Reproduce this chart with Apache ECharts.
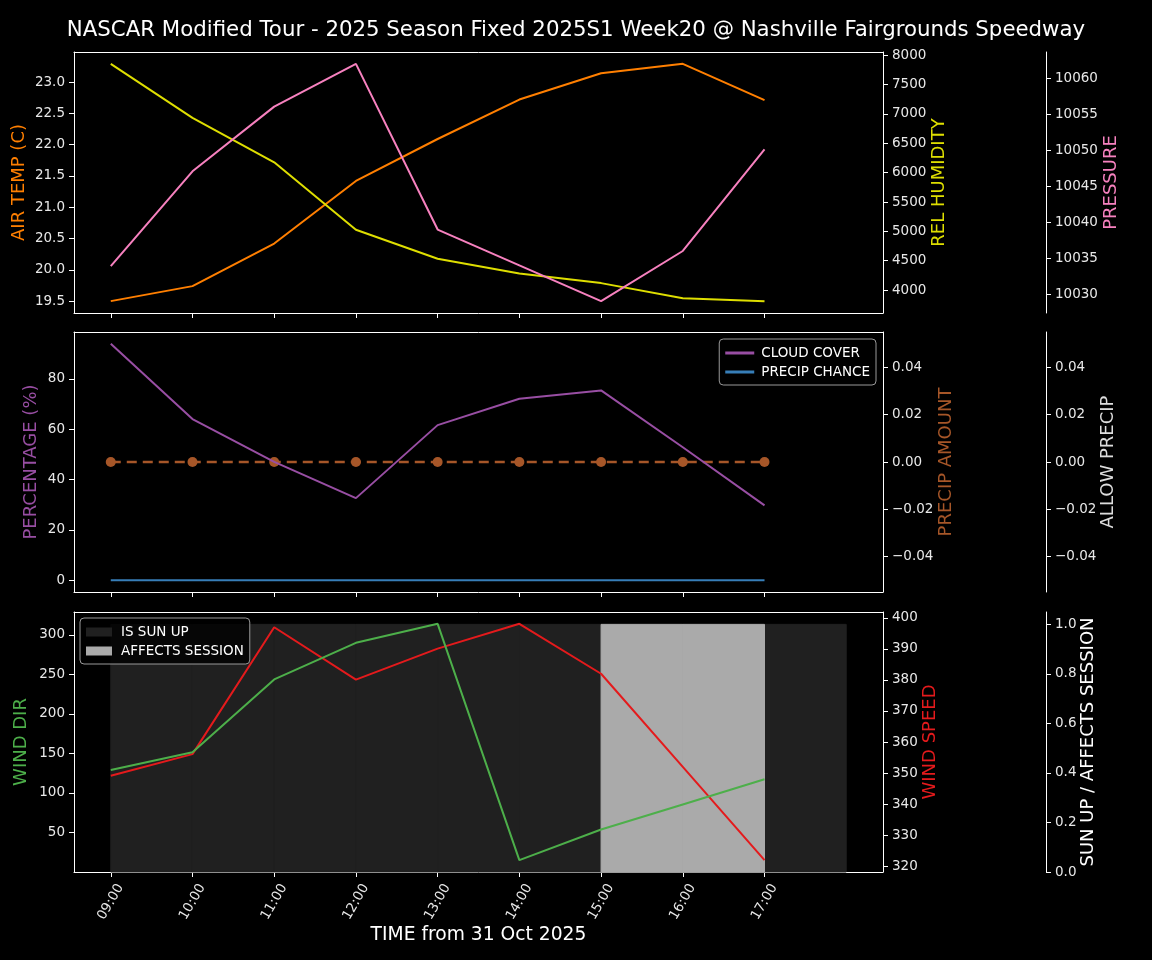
<!DOCTYPE html>
<html>
<head>
<meta charset="utf-8">
<title>NASCAR weather</title>
<script src="https://cdn.jsdelivr.net/npm/echarts@6/dist/echarts.min.js"></script>
<style>
    html, body { margin: 0; padding: 0; background: #000; }
    #mainChart { width: 1152px; height: 960px; }
</style>
</head>
<body>
<div id="mainChart"></div>
<script>
/** ----------------data-------------------------* */
var hours = [9, 10, 11, 12, 13, 14, 15, 16, 17];
var airTemp = [19.50, 19.74, 20.42, 21.42, 22.09, 22.72, 23.14, 23.29, 22.71];
var relHumidity = [7853, 6933, 6176, 5028, 4534, 4283, 4119, 3863, 3812];
var pressure = [10033.97, 10047.1, 10056.06, 10061.99, 10039.03, 10034.07, 10029.11, 10036.06, 10050.14];
var cloudCover = [93.9, 64.0, 47.0, 32.6, 61.6, 72.1, 75.4, 52.8, 29.7];
var precipChance = [0, 0, 0, 0, 0, 0, 0, 0, 0];
var precipAmount = [0, 0, 0, 0, 0, 0, 0, 0, 0];
var windDir = [129, 151.4, 243.6, 289.9, 313.9, 15.0, 53.8, 85.5, 117.3];
var windSpeed = [349.1, 356.1, 397.0, 380.1, 390.1, 398.1, 382.0, 352.0, 321.9];
var isSunUp = [1, 1, 1, 1, 1, 1, 1, 1, 1];
var affectsSession = [0, 0, 0, 0, 0, 0, 1, 1, 0];

// tick labels
var hourTicks = [9, 10, 11, 12, 13, 14, 15, 16, 17];
var tempTicks = [19.5, 20.0, 20.5, 21.0, 21.5, 22.0, 22.5, 23.0];
var humidityTicks = [4000, 4500, 5000, 5500, 6000, 6500, 7000, 7500, 8000];
var pressureTicks = [10030, 10035, 10040, 10045, 10050, 10055, 10060];
var pctTicks = [0, 20, 40, 60, 80];
var precipTicks = [-0.04, -0.02, 0, 0.02, 0.04];
var windDirTicks = [50, 100, 150, 200, 250, 300];
var windSpeedTicks = [320, 330, 340, 350, 360, 370, 380, 390, 400];
var sunTicks = [0, 0.2, 0.4, 0.6, 0.8, 1.0];

var TXT = '#e8e8e8';
var FONT = 'DejaVu Sans';
var RIGHT_X = 883;
var OFFSET = 163;
var TICK_FONT = 13.5;

/** --------helpers ------ */
function pairs(ys) {
    var arr = [];
    for (var i = 0; i < hours.length; i++) {
        arr.push([hours[i], ys[i]]);
    }
    return arr;
}

function bars(ys) {
    var arr = [];
    for (var i = 0; i < hours.length; i++) {
        arr.push([hours[i], hours[i] + 1, ys[i]]);
    }
    return arr;
}

// matplotlib style 5% margins
function pad(list) {
    var mn = Infinity, mx = -Infinity;
    for (var k = 0; k < list.length; k++) {
        for (var i = 0; i < list[k].length; i++) {
            mn = Math.min(mn, list[k][i]);
            mx = Math.max(mx, list[k][i]);
        }
    }
    if (mx === mn) {
        return [mn - 0.055, mx + 0.055];
    }
    var r = mx - mn;
    return [mn - r * 0.05, mx + r * 0.05];
}

function minus(s) {
    return String(s).replace('-', '\u2212');
}

/** --------axes ------ */
function xAxisFor(idx, showLabel) {
    var ax = {
        type: 'value',
        gridIndex: idx,
        min: 8.55,
        max: 18.45,
        axisLine: { show: true, onZero: false, lineStyle: { color: '#fff', width: 1 } },
        axisTick: { show: true, customValues: hourTicks, length: 5, lineStyle: { color: '#fff' } },
        axisLabel: {
            show: showLabel,
            customValues: hourTicks,
            rotate: 60,
            align: 'center',
            verticalAlign: 'middle',
            color: TXT,
            fontFamily: FONT,
            fontSize: TICK_FONT,
            margin: 30,
            formatter: function (v) {
                return (v < 10 ? '0' : '') + v + ':00';
            }
        },
        splitLine: { show: false }
    };
    if (showLabel) {
        ax.name = 'TIME from 31 Oct 2025';
        ax.nameLocation = 'middle';
        ax.nameGap = 54;
        ax.nameMoveOverlap = false;
        ax.nameTextStyle = { color: '#fff', fontSize: 18.7, fontFamily: FONT };
    }
    return ax;
}

// top frame line of each panel
function topAxisFor(idx) {
    return {
        type: 'value',
        gridIndex: idx,
        position: 'top',
        min: 8.55,
        max: 18.45,
        axisLine: { show: true, onZero: false, lineStyle: { color: '#fff', width: 1 } },
        axisTick: { show: false },
        axisLabel: { show: false },
        splitLine: { show: false }
    };
}

function yAxisFor(idx, pos, offset, name, color, range, ticks, fmt, gap) {
    return {
        type: 'value',
        gridIndex: idx,
        position: pos,
        offset: offset,
        min: range[0],
        max: range[1],
        name: name,
        nameLocation: 'middle',
        nameRotate: 90,
        nameGap: gap,
        nameMoveOverlap: false,
        nameTextStyle: { color: color, fontSize: 18, fontFamily: FONT },
        axisLine: { show: true, onZero: false, lineStyle: { color: '#fff', width: 1 } },
        axisTick: { show: true, customValues: ticks, length: 5, lineStyle: { color: '#fff' } },
        axisLabel: {
            customValues: ticks,
            color: TXT,
            fontFamily: FONT,
            fontSize: TICK_FONT,
            margin: 9,
            formatter: fmt
        },
        splitLine: { show: false }
    };
}

function lineSeries(name, xi, yi, ys, color) {
    return {
        name: name,
        type: 'line',
        xAxisIndex: xi,
        yAxisIndex: yi,
        data: pairs(ys),
        showSymbol: false,
        symbol: 'none',
        silent: true,
        z: 5,
        lineStyle: { color: color, width: 2 },
        itemStyle: { color: color }
    };
}

function barSeries(name, ys, color) {
    return {
        name: name,
        type: 'custom',
        xAxisIndex: 2,
        yAxisIndex: 8,
        data: bars(ys),
        z: 1,
        silent: true,
        itemStyle: { color: color },
        encode: { x: [0, 1], y: 2 },
        renderItem: function (params, api) {
            var v = api.value(2);
            if (!v) {
                return null;
            }
            var p0 = api.coord([api.value(0), 0]);
            var p1 = api.coord([api.value(1), v]);
            return {
                type: 'rect',
                shape: { x: p0[0], y: p1[1], width: p1[0] - p0[0], height: p0[1] - p1[1] },
                style: { fill: color, stroke: color, lineWidth: 1 }
            };
        }
    };
}

function legendFor(names, pos, iw, ih, tp) {
    var lg = {
        data: names,
        orient: 'vertical',
        top: pos.top,
        padding: [7, 6, 6, 6],
        itemGap: 5,
        icon: 'rect',
        itemWidth: iw,
        itemHeight: ih,
        backgroundColor: 'rgba(0,0,0,0.8)',
        borderColor: '#999',
        borderWidth: 1,
        borderRadius: 4,
        selectedMode: false,
        textStyle: { color: '#fff', fontSize: 13.5, fontFamily: FONT, padding: [0, 0, 0, tp] }
    };
    if (pos.left !== undefined) {
        lg.left = pos.left;
    } else {
        lg.right = pos.right;
    }
    return lg;
}

/** --------chart ------ */
function initChart() {
    var chart = echarts.init(document.getElementById('mainChart'), null, { renderer: 'canvas' });

    var f1 = function (v) { return v.toFixed(1); };
    var f0 = function (v) { return String(v); };
    var f2 = function (v) { return Math.abs(v) < 1e-9 ? '0.00' : minus(v.toFixed(2)); };

    var gridBase = { left: 74, right: 1152 - RIGHT_X, show: false };

    var option = {
        backgroundColor: '#000',
        animation: false,
        textStyle: { fontFamily: FONT },
        title: {
            text: 'NASCAR Modified Tour - 2025 Season Fixed 2025S1 Week20 @ Nashville Fairgrounds Speedway',
            left: 'center',
            top: 15,
            textStyle: { color: '#fff', fontSize: 21.3, fontWeight: 'normal', fontFamily: FONT }
        },
        legend: [
            legendFor(['CLOUD COVER', 'PRECIP CHANCE'], { right: 276, top: 339 }, 29, 3, 2),
            legendFor(['IS SUN UP', 'AFFECTS SESSION'], { left: 80, top: 618 }, 26, 9, 4)
        ],
        grid: [
            echarts.util.extend({ top: 52, height: 261 }, gridBase),
            echarts.util.extend({ top: 332, height: 260 }, gridBase),
            echarts.util.extend({ top: 612, height: 260 }, gridBase)
        ],
        xAxis: [
            xAxisFor(0, false), xAxisFor(1, false), xAxisFor(2, true),
            topAxisFor(0), topAxisFor(1), topAxisFor(2)
        ],
        yAxis: [
            yAxisFor(0, 'left', 0, 'AIR TEMP (C)', '#ff7f00', pad([airTemp]), tempTicks, f1, 45.5),
            yAxisFor(0, 'right', 0, 'REL HUMIDITY', '#dede00', pad([relHumidity]), humidityTicks, f0, 47.5),
            yAxisFor(0, 'right', OFFSET, 'PRESSURE', '#f781bf', pad([pressure]), pressureTicks, f0, 56.6),
            yAxisFor(1, 'left', 0, 'PERCENTAGE (%)', '#984ea3', pad([cloudCover, precipChance]), pctTicks, f0, 34),
            yAxisFor(1, 'right', 0, 'PRECIP AMOUNT', '#a65628', pad([precipAmount]), precipTicks, f2, 54.3),
            yAxisFor(1, 'right', OFFSET, 'ALLOW PRECIP', '#dddddd', pad([precipAmount]), precipTicks, f2, 53.3),
            yAxisFor(2, 'left', 0, 'WIND DIR', '#4daf4a', pad([windDir]), windDirTicks, f0, 43.3),
            yAxisFor(2, 'right', 0, 'WIND SPEED', '#e41a1c', pad([windSpeed]), windSpeedTicks, f0, 38.5),
            yAxisFor(2, 'right', OFFSET, 'SUN UP / AFFECTS SESSION', '#ffffff', [0, 1.05], sunTicks, f1, 33.3)
        ],
        series: [
            lineSeries('AIR TEMP', 0, 0, airTemp, '#ff7f00'),
            lineSeries('REL HUMIDITY', 0, 1, relHumidity, '#dede00'),
            lineSeries('PRESSURE', 0, 2, pressure, '#f781bf'),
            lineSeries('CLOUD COVER', 1, 3, cloudCover, '#984ea3'),
            lineSeries('PRECIP CHANCE', 1, 3, precipChance, '#377eb8'),
            {
                name: 'PRECIP AMOUNT',
                type: 'line',
                xAxisIndex: 1,
                yAxisIndex: 4,
                data: pairs(precipAmount),
                symbol: 'circle',
                symbolSize: 10,
                silent: true,
                z: 4,
                lineStyle: { color: '#a65628', width: 2.5, type: [10, 6] },
                itemStyle: { color: '#a65628' }
            },
            barSeries('IS SUN UP', isSunUp, '#202020'),
            barSeries('AFFECTS SESSION', affectsSession, '#aaaaaa'),
            lineSeries('WIND SPEED', 2, 7, windSpeed, '#e41a1c'),
            lineSeries('WIND DIR', 2, 6, windDir, '#4daf4a')
        ]
    };
    chart.setOption(option);
}

initChart();
</script>
</body>
</html>
